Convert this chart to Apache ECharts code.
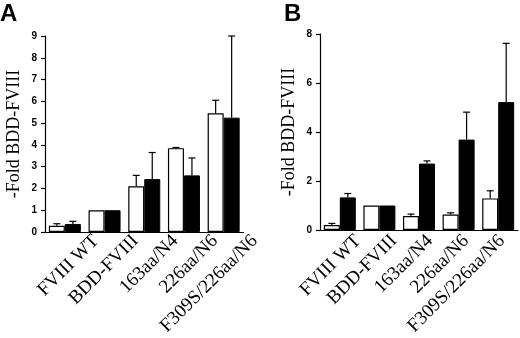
<!DOCTYPE html>
<html>
<head>
<meta charset="utf-8">
<script src="https://cdn.jsdelivr.net/npm/echarts@6/dist/echarts.min.js"></script>
<style>
  html, body { margin: 0; padding: 0; background: #fff; }
  #chart { width: 520px; height: 338px; }
</style>
</head>
<body>
<div id="chart"></div>
<script>
var categories = ['FVIII WT', 'BDD-FVIII', '163aa/N4', '226aa/N6', 'F309S/226aa/N6'];

// panel A: open (white) and filled (black) bars, with upper error
var whiteA    = [0.29, 1, 2.1, 3.85, 5.45];
var whiteErrA = [0.09, 0, 0.5, 0.03, 0.6];
var blackA    = [0.37, 1, 2.43, 2.6, 5.25];
var blackErrA = [0.12, 0, 1.22, 0.8, 3.75];
var yMaxA = 9, yStepA = 1;

// panel B
var whiteB    = [0.2, 1, 0.57, 0.63, 1.29];
var whiteErrB = [0.07, 0, 0.08, 0.07, 0.31];
var blackB    = [1.33, 1, 2.71, 3.69, 5.22];
var blackErrB = [0.16, 0, 0.11, 1.12, 2.4];
var yMaxB = 8, yStepB = 2;

var chart = echarts.init(document.getElementById('chart'));

var BAR_W = 16;
var serif = '"Liberation Serif", "Times New Roman", serif';
var sans = '"Liberation Sans", Arial, sans-serif';

function errData(vals, errs){
    var out = [];
    for (var i = 0; i < vals.length; i++) {
        out.push([i, vals[i], errs[i]]);
    }
    return out;
}

function errRender(shift){
    return function(params, api){
        var e = api.value(2);
        if (!e) return;
        var i = api.value(0), v = api.value(1);
        var p0 = api.coord([i, v]);
        var p1 = api.coord([i, v + e]);
        var x = p0[0] + shift;
        var st = { stroke: '#000', lineWidth: 1.2 };
        return {
            type: 'group',
            children: [
                { type: 'line', shape: { x1: x, y1: p0[1], x2: x, y2: p1[1] }, style: st },
                { type: 'line', shape: { x1: x - 3.5, y1: p1[1], x2: x + 3.5, y2: p1[1] }, style: st }
            ]
        };
    };
}

function mainX(grid){
    return {
        type: 'category', gridIndex: grid, data: categories,
        axisLine: { lineStyle: { color: '#000', width: 1.2 } },
        axisTick: { alignWithLabel: true, length: 4, lineStyle: { color: '#000', width: 1.2 } },
        axisLabel: { show: false }
    };
}
// labels sit on a shifted copy of the axis so they end right of the ticks
function labelX(grid, margin){
    return {
        type: 'category', gridIndex: grid, data: categories,
        axisLine: { show: false }, axisTick: { show: false },
        axisLabel: {
            rotate: 45, margin: margin, interval: 0,
            fontFamily: serif, fontSize: 19, color: '#000'
        }
    };
}
function mainY(grid, max, step){
    return {
        type: 'value', gridIndex: grid, min: 0, max: max, interval: step,
        name: '-Fold BDD-FVIII', nameLocation: 'middle', nameRotate: 90, nameGap: 22,
        nameTextStyle: { fontFamily: serif, fontSize: 18, color: '#000' },
        splitLine: { show: false },
        axisLine: { show: true, lineStyle: { color: '#000', width: 1.2 } },
        axisTick: { show: true, length: 4, lineStyle: { color: '#000', width: 1.2 } },
        axisLabel: { margin: 8, fontFamily: sans, fontWeight: 'bold', fontSize: 10, color: '#000' }
    };
}
function hiddenY(grid){
    return { type: 'value', gridIndex: grid, min: 0, max: 1, show: false };
}

var whiteStyle = { color: '#fff', borderColor: '#000', borderWidth: 1.2 };
var blackStyle = { color: '#000', borderColor: '#000', borderWidth: 1 };
var letterStyle = { fontFamily: sans, fontWeight: 'bold', fontSize: 24, color: '#000' };

var option = {
    animation: false,
    backgroundColor: '#fff',
    title: [
        { text: 'A', left: 0, top: 2, padding: 0, textStyle: letterStyle },
        { text: 'B', left: 284, top: 2, padding: 0, textStyle: letterStyle }
    ],
    grid: [
        { left: 45, top: 36, width: 198.5, height: 196 },
        { left: 76, top: 36, width: 198.5, height: 196 },
        { left: 320, top: 34, width: 198, height: 196 },
        { left: 340, top: 34, width: 198, height: 196 }
    ],
    xAxis: [ mainX(0), labelX(1, 20), mainX(2), labelX(3, 12) ],
    yAxis: [ mainY(0, yMaxA, yStepA), hiddenY(1), mainY(2, yMaxB, yStepB), hiddenY(3) ],
    series: [
        { type: 'bar', xAxisIndex: 0, yAxisIndex: 0, data: whiteA, barWidth: BAR_W, barGap: '0%', itemStyle: whiteStyle },
        { type: 'bar', xAxisIndex: 0, yAxisIndex: 0, data: blackA, barWidth: BAR_W, barGap: '0%', itemStyle: blackStyle },
        { type: 'custom', xAxisIndex: 0, yAxisIndex: 0, data: errData(whiteA, whiteErrA), renderItem: errRender(-BAR_W / 2), z: 5 },
        { type: 'custom', xAxisIndex: 0, yAxisIndex: 0, data: errData(blackA, blackErrA), renderItem: errRender(BAR_W / 2), z: 5 },
        { type: 'bar', xAxisIndex: 2, yAxisIndex: 2, data: whiteB, barWidth: BAR_W, barGap: '0%', itemStyle: whiteStyle },
        { type: 'bar', xAxisIndex: 2, yAxisIndex: 2, data: blackB, barWidth: BAR_W, barGap: '0%', itemStyle: blackStyle },
        { type: 'custom', xAxisIndex: 2, yAxisIndex: 2, data: errData(whiteB, whiteErrB), renderItem: errRender(-BAR_W / 2), z: 5 },
        { type: 'custom', xAxisIndex: 2, yAxisIndex: 2, data: errData(blackB, blackErrB), renderItem: errRender(BAR_W / 2), z: 5 }
    ]
};

chart.setOption(option);
</script>
</body>
</html>
